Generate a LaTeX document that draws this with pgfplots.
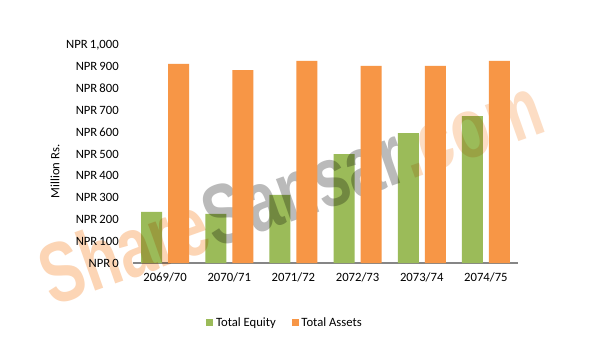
\documentclass[border=0pt]{standalone}
\usepackage{pgfplots}
\pgfplotsset{compat=1.18}
\usepackage{fontspec}
\setmainfont{Carlito}
\newfontfamily\wmfont{Liberation Sans Bold}
\definecolor{eqgreen}{RGB}{155,187,89}
\definecolor{asorange}{RGB}{247,150,70}
\definecolor{axgray}{RGB}{134,134,134}
\begin{document}
\begin{tikzpicture}
\useasboundingbox (0,0) rectangle (457.5pt,265.5pt);
\fill[white] (0,0) rectangle (457.5pt,265.5pt);
\begin{axis}[
  at={(99.75pt,68.25pt)}, anchor=south west,
  scale only axis, width=288.75pt, height=163.5pt,
  clip=false,
  xmin=-0.5, xmax=5.5, ymin=0, ymax=1000,
  ybar=4.5pt, bar width=15.75pt,
  axis lines*=left,
  x axis line style={draw=axgray, line width=0.8pt},
  y axis line style={draw=none},
  major tick length=0pt,
  xtick={0,1,2,3,4,5},
  xticklabels={2069/70,2070/71,2071/72,2072/73,2073/74,2074/75},
  ytick={0,100,...,1000},
  yticklabel={NPR\,\pgfmathprintnumber{\tick}},
  /pgf/number format/1000 sep={,},
  /pgf/number format/assume math mode=true,
  tick label style={font=\fontsize{9.5}{11}\selectfont, text=black},
  yticklabel style={anchor=east, inner sep=0pt, xshift=-10.5pt},
  xticklabel style={anchor=north, inner sep=0pt, yshift=-7pt},
  ylabel={Million Rs.},
  every axis y label/.style={at={(axis description cs:-0.2026,0.42)}, rotate=90, anchor=center, font=\fontsize{9.5}{11}\selectfont},
  legend style={at={(axis description cs:0.396,-0.275)}, anchor=center, draw=none, fill=none,
    legend columns=2, font=\fontsize{9.5}{11}\selectfont,
    /tikz/every even column/.append style={column sep=10pt}},
  legend image code/.code={\fill[#1] (0pt,-2.6pt) rectangle (5.2pt,2.6pt);},
]
\addplot[fill=eqgreen, draw=none] coordinates {(0,234) (1,225) (2,312) (3,500) (4,596) (5,674)};
\node[rotate=19.5, xscale=0.73, font=\wmfont\fontsize{64}{64}\selectfont, inner sep=0pt, anchor=center, blend mode=multiply] at (rel axis cs:0.4078,0.3349)
  {\color{asorange!40}Share\color{black!27}Sansar\color{asorange!32}.com};
\addplot[fill=asorange, draw=none] coordinates {(0,913) (1,885) (2,927) (3,904) (4,904) (5,927)};
\legend{Total Equity, Total Assets}
\end{axis}
\end{tikzpicture}
\end{document}
